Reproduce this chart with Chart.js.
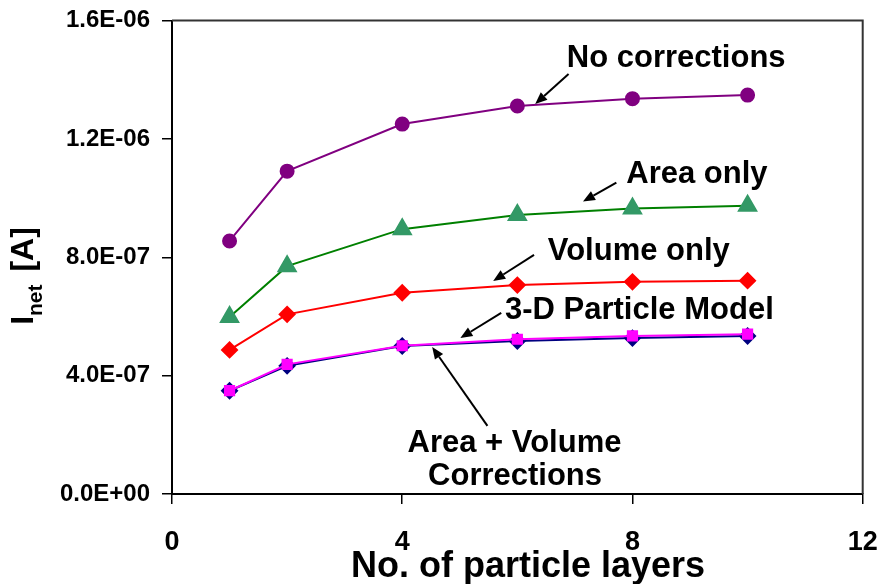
<!DOCTYPE html>
<html>
<head>
<meta charset="utf-8">
<script src="https://cdn.jsdelivr.net/npm/chart.js@4.4.0/dist/chart.umd.min.js"></script>
<style>
  html, body { margin: 0; padding: 0; background: #fff; }
</style>
</head>
<body>
<canvas id="myChart" width="878" height="584"></canvas>
<script>
// x values: number of particle layers
const layers = [1, 2, 4, 6, 8, 10];

// net current [A]
const noCorrections = [8.55e-7, 1.091e-6, 1.250e-6, 1.311e-6, 1.336e-6, 1.348e-6];
const areaOnly      = [5.98e-7, 7.70e-7, 8.95e-7, 9.43e-7, 9.65e-7, 9.74e-7];
const volumeOnly    = [4.87e-7, 6.07e-7, 6.80e-7, 7.06e-7, 7.17e-7, 7.21e-7];
const areaVolume    = [3.49e-7, 4.33e-7, 5.00e-7, 5.17e-7, 5.27e-7, 5.34e-7];
const particleModel = [3.49e-7, 4.38e-7, 5.01e-7, 5.23e-7, 5.34e-7, 5.40e-7];

const xTicks = [0, 4, 8, 12];
const yTicks = [0, 4e-7, 8e-7, 1.2e-6, 1.6e-6];

// callout labels, placed in data units: [text, x, y]
const noteTexts = [
  ['No corrections', 8.76, 1.443e-6],
  ['Area only', 9.12, 1.051e-6],
  ['Volume only', 8.11, 0.791e-6],
  ['3-D Particle Model', 8.12, 0.591e-6],
  ['Area + Volume', 5.95, 0.142e-6],
  ['Corrections', 5.96, 0.030e-6]
];
// arrows: [tailX, tailY, headX, headY]
const noteArrows = [
  [6.89, 1.419e-6, 6.31, 1.318e-6],
  [7.72, 1.052e-6, 7.14, 0.988e-6],
  [6.29, 0.808e-6, 5.58, 0.720e-6],
  [5.72, 0.612e-6, 5.01, 0.527e-6],
  [5.48, 0.230e-6, 4.52, 0.497e-6]
];

const FONT = "'Liberation Sans', Arial, sans-serif";

function sci(v) {
  if (v === 0) return '0.0E+00';
  const parts = v.toExponential(1).split('e');
  const e = parseInt(parts[1], 10);
  return parts[0] + 'E' + (e < 0 ? '-' : '+') + String(Math.abs(e)).padStart(2, '0');
}

function pts(values) {
  return layers.map((x, i) => ({ x: x, y: values[i] }));
}

const annotate = {
  id: 'annotate',
  afterDraw(chart) {
    const ctx = chart.ctx;
    const xs = chart.scales.x, ys = chart.scales.y;
    const a = chart.chartArea;
    ctx.save();

    // top and right frame of the plot box
    ctx.strokeStyle = '#333';
    ctx.lineWidth = 2;
    ctx.beginPath();
    ctx.moveTo(a.left, a.top);
    ctx.lineTo(a.right, a.top);
    ctx.lineTo(a.right, a.bottom);
    ctx.stroke();

    // callout texts
    ctx.fillStyle = '#000';
    ctx.textAlign = 'center';
    ctx.textBaseline = 'alphabetic';
    ctx.font = 'bold 31px ' + FONT;
    noteTexts.forEach(n => {
      ctx.fillText(n[0], xs.getPixelForValue(n[1]), ys.getPixelForValue(n[2]));
    });

    // arrows
    ctx.strokeStyle = '#000';
    ctx.lineWidth = 2;
    noteArrows.forEach(ar => {
      const x0 = xs.getPixelForValue(ar[0]), y0 = ys.getPixelForValue(ar[1]);
      const x1 = xs.getPixelForValue(ar[2]), y1 = ys.getPixelForValue(ar[3]);
      const ang = Math.atan2(y1 - y0, x1 - x0);
      const len = 12, half = 5;
      const bx = x1 - Math.cos(ang) * len, by = y1 - Math.sin(ang) * len;
      ctx.beginPath();
      ctx.moveTo(x0, y0);
      ctx.lineTo(bx, by);
      ctx.stroke();
      ctx.beginPath();
      ctx.moveTo(x1, y1);
      ctx.lineTo(bx - Math.sin(ang) * half, by + Math.cos(ang) * half);
      ctx.lineTo(bx + Math.sin(ang) * half, by - Math.cos(ang) * half);
      ctx.closePath();
      ctx.fill();
    });

    // x axis title
    ctx.font = 'bold 36px ' + FONT;
    ctx.fillText('No. of particle layers', 528, 577);

    // y axis title with subscript
    ctx.translate(33, 278);
    ctx.rotate(-Math.PI / 2);
    const big = 'bold 32px ' + FONT, small = 'bold 21px ' + FONT;
    ctx.font = big;
    const wI = ctx.measureText('I').width;
    const wA = ctx.measureText(' [A]').width;
    ctx.font = small;
    const wN = ctx.measureText('net').width;
    let x = -(wI + wN + wA) / 2;
    ctx.textAlign = 'left';
    ctx.font = big;
    ctx.fillText('I', x, 0);
    x += wI;
    ctx.font = small;
    ctx.fillText('net', x, 9);
    x += wN + 4;
    ctx.font = big;
    ctx.fillText(' [A]', x, 0);
    ctx.restore();
  }
};

const ctx = document.getElementById('myChart').getContext('2d');
new Chart(ctx, {
  type: 'line',
  data: {
    datasets: [
      {
        label: '3-D Particle Model',
        data: pts(particleModel),
        borderColor: '#FF00FF',
        backgroundColor: '#FF00FF',
        pointStyle: 'rect',
        pointRadius: 6.5,
        borderWidth: 2
      },
      {
        label: 'Area + Volume Corrections',
        data: pts(areaVolume),
        borderColor: '#000080',
        backgroundColor: '#000080',
        pointStyle: 'rectRot',
        pointRadius: 7.5,
        borderWidth: 2
      },
      {
        label: 'Volume only',
        data: pts(volumeOnly),
        borderColor: '#FF0000',
        backgroundColor: '#FF0000',
        pointStyle: 'rectRot',
        pointRadius: 7.5,
        borderWidth: 2
      },
      {
        label: 'Area only',
        data: pts(areaOnly),
        borderColor: '#008000',
        backgroundColor: '#339966',
        pointBorderColor: '#339966',
        pointStyle: 'triangle',
        pointRadius: 10,
        borderWidth: 2
      },
      {
        label: 'No corrections',
        data: pts(noCorrections),
        borderColor: '#800080',
        backgroundColor: '#800080',
        pointStyle: 'circle',
        pointRadius: 6.5,
        borderWidth: 2
      }
    ]
  },
  options: {
    responsive: false,
    animation: false,
    layout: { padding: { left: 0, top: 20.5, right: 15.3, bottom: 0 } },
    plugins: {
      legend: { display: false },
      tooltip: { enabled: false }
    },
    elements: { line: { tension: 0 }, point: { borderWidth: 1 } },
    scales: {
      x: {
        type: 'linear',
        min: 0,
        max: 12,
        afterBuildTicks: s => { s.ticks = xTicks.map(v => ({ value: v })); },
        afterFit: s => {
          s.height = 90;
          s.paddingLeft = 0; s.paddingRight = 0;
        },
        grid: { drawOnChartArea: false, drawTicks: true, tickLength: 10, color: '#000', lineWidth: 1.5 },
        border: { display: true, color: '#000', width: 2 },
        ticks: {
          padding: 22,
          maxRotation: 0,
          color: '#000',
          font: { family: FONT, size: 27, weight: 'bold' }
        }
      },
      y: {
        type: 'linear',
        min: 0,
        max: 1.6e-6,
        afterBuildTicks: s => { s.ticks = yTicks.map(v => ({ value: v })); },
        afterFit: s => {
          s.width = 172;
          s.paddingTop = 0; s.paddingBottom = 0;
        },
        grid: { drawOnChartArea: false, drawTicks: true, tickLength: 10, color: '#000', lineWidth: 1.5 },
        border: { display: true, color: '#000', width: 2 },
        ticks: {
          padding: 12,
          color: '#000',
          font: { family: FONT, size: 24, weight: 'bold' },
          callback: v => sci(v)
        }
      }
    }
  },
  plugins: [annotate]
});
</script>
</body>
</html>
